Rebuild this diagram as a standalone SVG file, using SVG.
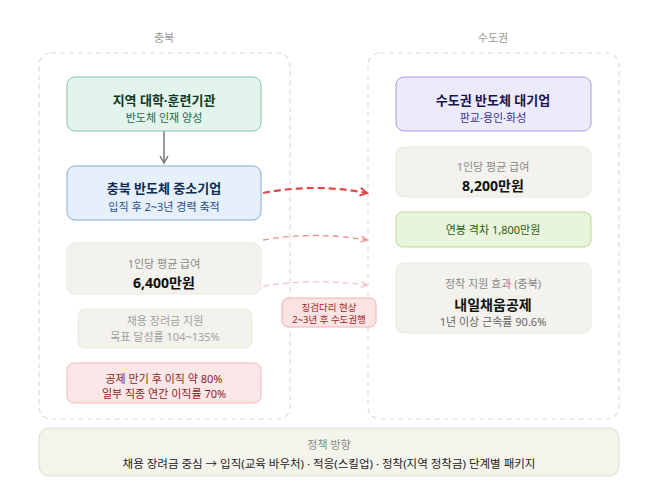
<svg xmlns="http://www.w3.org/2000/svg" width="658" height="503" viewBox="0 0 658 503">
<defs>
<style>
text{font-family:"Noto Sans","Noto Sans CJK KR",sans-serif;text-anchor:middle}
.cl{fill:none;stroke:#dcdcdc;stroke-width:1.2;stroke-dasharray:5 4}
.cll{font-size:11px;fill:#9a9a9a}
.t{font-size:13px;font-weight:bold}
.s{font-size:11px}
.lab{font-size:11px;fill:#8a8a8a}
.val{font-size:14px;font-weight:bold;fill:#111}
.gray{fill:#f3f2ec;stroke:#ebe9e1;stroke-width:1}
</style>
<marker id="ah1" markerWidth="10" markerHeight="10" refX="8" refY="5" orient="auto" markerUnits="userSpaceOnUse"><path d="M1,1 L8,5 L1,9" fill="none" stroke="#e04848" stroke-width="2"/></marker>
<marker id="ah2" markerWidth="10" markerHeight="10" refX="8" refY="5" orient="auto" markerUnits="userSpaceOnUse"><path d="M2,2 L8,5 L2,8" fill="none" stroke="#ef8e8e" stroke-width="1.3"/></marker>
<marker id="ah3" markerWidth="10" markerHeight="10" refX="8" refY="5" orient="auto" markerUnits="userSpaceOnUse"><path d="M2,2 L8,5 L2,8" fill="none" stroke="#f5bdbd" stroke-width="1.2"/></marker>
<marker id="ahg" markerWidth="10" markerHeight="10" refX="8" refY="5" orient="auto" markerUnits="userSpaceOnUse"><path d="M1,1 L8,5 L1,9" fill="none" stroke="#777" stroke-width="1.5"/></marker>
</defs>
<rect width="658" height="503" fill="#fff"/>
<g id="cluster-chungbuk">
<rect class="cl" x="39" y="53" width="251" height="366" rx="12"/>
<text class="cll" x="164" y="42">충북</text>
</g>
<g id="cluster-sudogwon">
<rect class="cl" x="368" y="53" width="251" height="366" rx="12"/>
<text class="cll" x="493" y="42">수도권</text>
</g>
<g id="connectors">
<line x1="164" y1="131" x2="164" y2="163" stroke="#777" stroke-width="1.5" marker-end="url(#ahg)"/>
<path d="M263,193 Q315,183 367,193" fill="none" stroke="#e04848" stroke-width="2.2" stroke-dasharray="7 4" marker-end="url(#ah1)"/>
<path d="M263,240 Q315,231 367,240" fill="none" stroke="#ef8e8e" stroke-width="1.3" stroke-dasharray="6 4" marker-end="url(#ah2)"/>
<path d="M263,286 Q315,278 367,285" fill="none" stroke="#f5bdbd" stroke-width="1.2" stroke-dasharray="6 4" marker-end="url(#ah3)"/>
</g>
<g id="node-univ">
<rect x="67" y="77" width="194" height="54" rx="8" fill="#e3f4ec" stroke="#86c4a4"/>
<text class="t" x="164" y="105" fill="#0f3b28">지역 대학·훈련기관</text>
<text class="s" x="164" y="122" fill="#1d6a47">반도체 인재 양성</text>
</g>
<g id="node-sme">
<rect x="67" y="166" width="194" height="54" rx="8" fill="#e6f0fb" stroke="#86aad6"/>
<text class="t" x="164" y="193" fill="#0e2c52">충북 반도체 중소기업</text>
<text class="s" x="164" y="211" fill="#1f4f8a">입직 후 2~3년 경력 축적</text>
</g>
<g id="node-cb-salary">
<rect class="gray" x="67" y="243" width="194" height="51" rx="8"/>
<text class="lab" x="164" y="268">1인당 평균 급여</text>
<text class="val" x="164" y="288">6,400만원</text>
</g>
<g id="node-subsidy">
<rect class="gray" x="78" y="309" width="174" height="39" rx="7"/>
<text class="s" x="165" y="325" fill="#a2a2a2">채용 장려금 지원</text>
<text class="s" x="165" y="341" fill="#a2a2a2">목표 달성률 104~135%</text>
</g>
<g id="node-turnover">
<rect x="67" y="363" width="194" height="40" rx="7" fill="#fbe7e7" stroke="#f1b9b9"/>
<text class="s" x="164" y="383" fill="#8e1c1c">공제 만기 후 이직 약 80%</text>
<text class="s" x="164" y="398" fill="#8e1c1c">일부 직종 연간 이직률 70%</text>
</g>
<g id="node-large">
<rect x="396" y="77" width="195" height="54" rx="8" fill="#ecebfc" stroke="#a59de2"/>
<text class="t" x="493" y="105" fill="#1a1650">수도권 반도체 대기업</text>
<text class="s" x="493" y="122" fill="#3a3290">판교·용인·화성</text>
</g>
<g id="node-sd-salary">
<rect class="gray" x="396" y="147" width="195" height="50" rx="8"/>
<text class="lab" x="493" y="171">1인당 평균 급여</text>
<text class="val" x="493" y="191">8,200만원</text>
</g>
<g id="node-gap">
<rect x="396" y="212" width="195" height="35" rx="7" fill="#e9f4dc" stroke="#b8d992"/>
<text class="s" x="493" y="234" fill="#2d5a16">연봉 격차 1,800만원</text>
</g>
<g id="node-effect">
<rect class="gray" x="396" y="263" width="195" height="70" rx="8"/>
<text class="lab" x="493" y="288">정착 지원 효과 (충북)</text>
<text class="val" x="493" y="310">내일채움공제</text>
<text class="s" x="493" y="326" fill="#666">1년 이상 근속률 90.6%</text>
</g>
<g id="node-bridge">
<rect x="282" y="298" width="94" height="29" rx="6" fill="#fbe3e3" stroke="#f0b2b2"/>
<text x="329" y="310.5" font-size="9.5" fill="#a01f1f">징검다리 현상</text>
<text x="329" y="323" font-size="9.5" fill="#a01f1f">2~3년 후 수도권행</text>
</g>
<g id="node-policy">
<rect x="39" y="428" width="580" height="48" rx="10" fill="#f5f4ec" stroke="#dddbd0"/>
<text class="lab" x="329" y="449">정책 방향</text>
<text x="329" y="468" font-size="11.5" fill="#222">채용 장려금 중심 → 입직(교육 바우처) · 적응(스킬업) · 정착(지역 정착금) 단계별 패키지</text>
</g>
</svg>
